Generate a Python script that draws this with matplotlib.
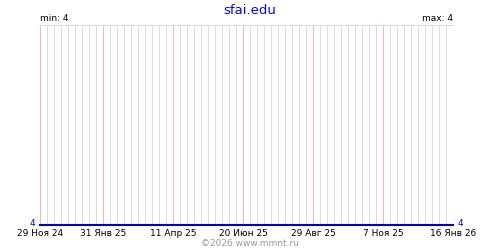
import datetime as dt
import matplotlib
matplotlib.use('Agg')
import matplotlib.pyplot as plt

# data: site availability readings (constant over the period)
dates = [dt.date(2024, 11, 29), dt.date(2026, 1, 16)]
values = [4, 4]
site = 'sfai.edu'

tick_dates = [dt.date(2024, 11, 29), dt.date(2025, 1, 31), dt.date(2025, 4, 11),
              dt.date(2025, 6, 20), dt.date(2025, 8, 29), dt.date(2025, 11, 7),
              dt.date(2026, 1, 16)]
tick_labels = ['29 Ноя 24', '31 Янв 25', '11 Апр 25', '20 Июн 25',
               '29 Авг 25', '7 Ноя 25', '16 Янв 26']

fig = plt.figure(figsize=(5, 2.5), dpi=100)
ax = fig.add_axes([0.08, 0.1, 0.826, 0.8])

# weekly grid, 1px lines; pink ones at the labelled dates
weeks = []
d = dates[0]
while d <= dates[-1]:
    if d not in tick_dates:
        weeks.append(d)
    d += dt.timedelta(days=7)
ax.vlines(weeks, 0, 1, transform=ax.get_xaxis_transform(), colors='#dcdcdc',
          lw=0.72, antialiased=False, zorder=1)
ax.vlines(tick_dates, 0, 1, transform=ax.get_xaxis_transform(), colors='#ffb4b4',
          lw=0.72, antialiased=False, zorder=2)

ax.plot(dates, values, color='#0000cc', lw=1.5, zorder=3, clip_on=False)

ax.set_xlim(dates[0], dates[-1])
ax.set_ylim(4, 5)
ax.set_yticks([])
ax.set_xticks(tick_dates)
ax.set_xticklabels(tick_labels, fontsize=6.5)
ax.tick_params(axis='x', length=0, pad=3)
for s in ['left', 'right', 'bottom']:
    ax.spines[s].set_visible(False)
ax.spines['top'].set_color('#dcdcdc')

vmin, vmax = min(values), max(values)
ax.text(0, 1.01, 'min: %d' % vmin, transform=ax.transAxes, fontsize=6.5,
        ha='left', va='bottom')
ax.text(1, 1.01, 'max: %d' % vmax, transform=ax.transAxes, fontsize=6.5,
        ha='right', va='bottom')
ax.text(-0.012, 0.01, '%d' % values[0], transform=ax.transAxes, fontsize=6.5,
        color='#0000cc', ha='right', va='center')
ax.text(1.012, 0.01, '%d' % values[-1], transform=ax.transAxes, fontsize=6.5,
        color='#0000cc', ha='left', va='center')

fig.text(0.5, 0.985, site, color='#0000ff', fontsize=9.5, ha='center', va='top')
fig.text(0.5, 0.01, '©2026 www.mmnt.ru', color='#999999', fontsize=6.5,
         ha='center', va='bottom')

fig.savefig('out.png', dpi=100)
